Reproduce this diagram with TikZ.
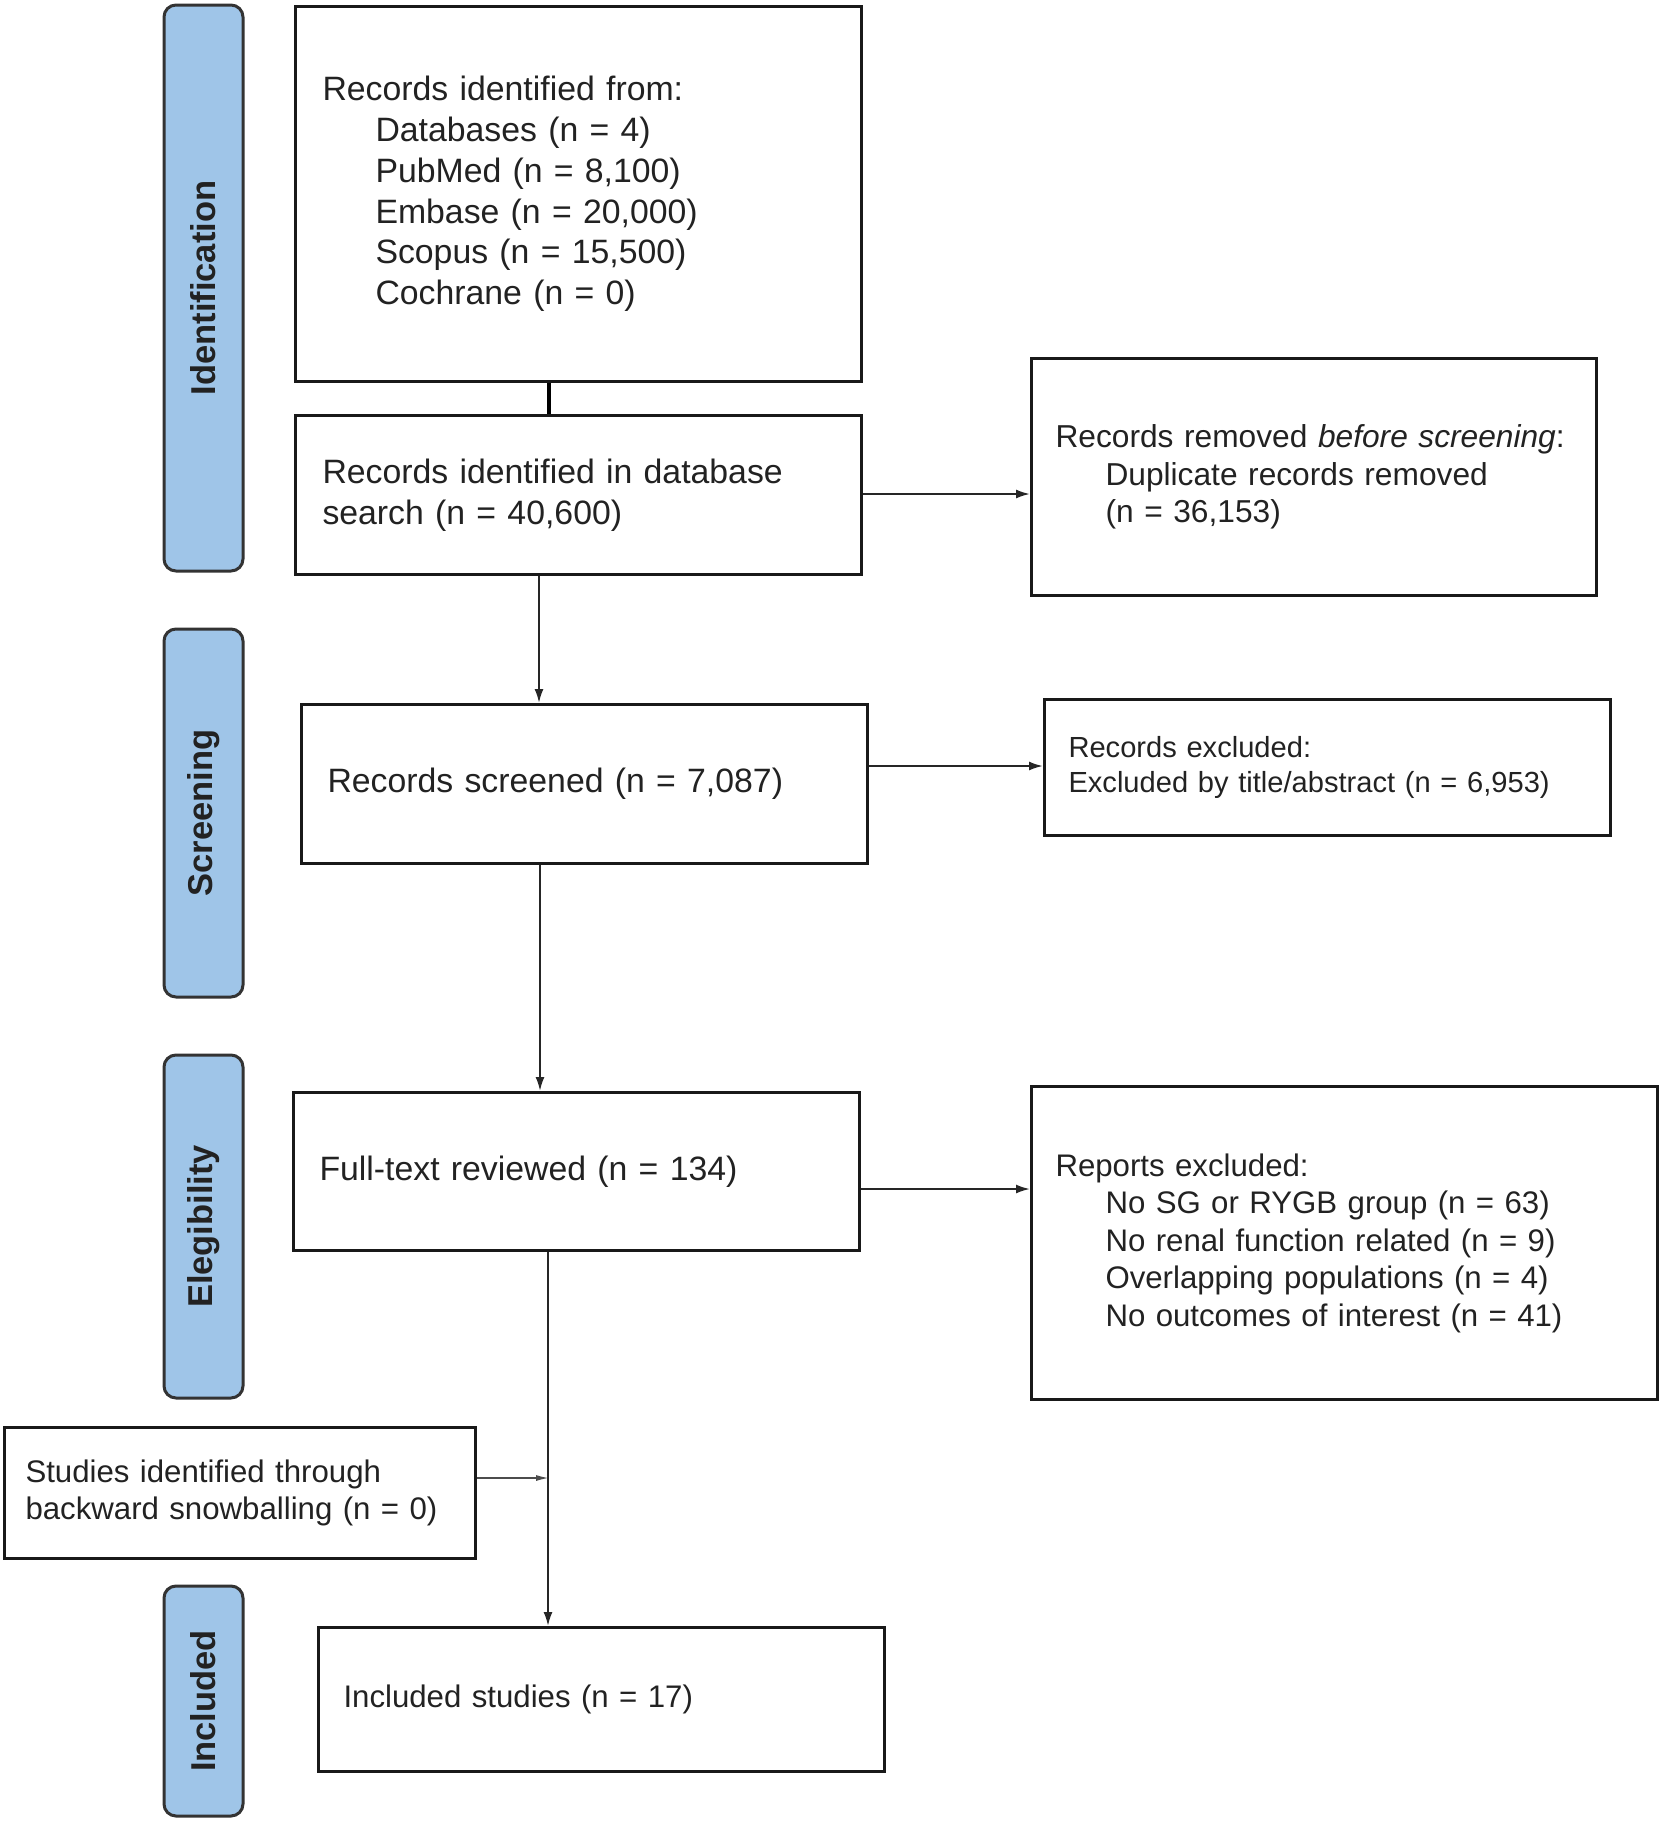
\documentclass[tikz,border=0pt]{standalone}
\usepackage{fontspec}
\setmainfont{Liberation Sans}
\usetikzlibrary{arrows.meta}
\definecolor{phasefill}{HTML}{9FC5E8}
\definecolor{ink}{HTML}{222222}
\tikzset{
  box/.style={draw=black!90, line width=3pt, rectangle, anchor=north west, align=left,
    inner ysep=0pt, text=ink},
  fbig/.style={font=\fontsize{33.8}{40.7}\selectfont},
  frem/.style={font=\fontsize{31.7}{37.5}\selectfont},
  fmid/.style={font=\fontsize{31.2}{37.5}\selectfont},
  fsmall/.style={font=\fontsize{29.1}{35}\selectfont},
  phase/.style={draw=black!80, fill=phasefill, line width=3pt, rounded corners=12pt,
    rotate=90, minimum height=79pt, inner sep=0pt, text=ink,
    font=\bfseries\fontsize{34.5}{34.5}\selectfont},
  arr/.style={line width=2pt, draw=black!85, -{Latex[length=14pt,width=9pt]}},
  joinline/.style={line width=4pt, draw=black},
  smallarr/.style={line width=2pt, draw=black!70, -{Latex[length=14pt,width=6pt]}},
}
\begin{document}
\begin{tikzpicture}[x=1pt,y=-1pt]
\useasboundingbox (0,0) rectangle (1659,1823);

% phase bars
\node[phase, minimum width=566pt] (pid) at (203.5,288) {Identification};
\node[phase, minimum width=368pt] (pscr) at (203.5,813) {Screening};
\node[phase, minimum width=343pt] (pel) at (203.5,1226.5) {Elegibility};
\node[phase, minimum width=230pt] (pinc) at (203.5,1701) {Included};

% boxes
\node[box, fbig, inner xsep=27pt, text width=512pt, minimum height=375pt] (b1) at (294,5)
 {Records identified from:\\
  \hspace*{53pt}Databases (n = 4)\\
  \hspace*{53pt}PubMed (n = 8,100)\\
  \hspace*{53pt}Embase (n = 20,000)\\
  \hspace*{53pt}Scopus (n = 15,500)\\
  \hspace*{53pt}Cochrane (n = 0)};
\node[box, fbig, inner xsep=27pt, text width=512pt, minimum height=159pt] (b2) at (294,414)
 {Records identified in database\\search (n = 40,600)};
\node[box, frem, inner xsep=24pt, text width=517pt, minimum height=237pt] (rem) at (1030,357)
 {Records removed \textit{before screening}:\\
  \hspace*{50pt}Duplicate records removed\\
  \hspace*{50pt}(n = 36,153)};
\node[box, fbig, inner xsep=26pt, text width=514pt, minimum height=159pt] (scr) at (300,703)
 {Records screened (n = 7,087)};
\node[box, fsmall, inner xsep=24pt, text width=518pt, minimum height=136pt] (exc) at (1043,698)
 {Records excluded:\\Excluded by title/abstract (n = 6,953)};
\node[box, fbig, inner xsep=26pt, text width=514pt, minimum height=158pt] (full) at (292,1091)
 {Full-text reviewed (n = 134)};
\node[box, fmid, inner xsep=24pt, text width=578pt, minimum height=313pt] (rep) at (1030,1085)
 {Reports excluded:\\
  \hspace*{50pt}No SG or RYGB group (n = 63)\\
  \hspace*{50pt}No renal function related (n = 9)\\
  \hspace*{50pt}Overlapping populations (n = 4)\\
  \hspace*{50pt}No outcomes of interest (n = 41)};
\node[box, fmid, inner xsep=21pt, text width=429pt, minimum height=131pt] (snow) at (3,1426)
 {Studies identified through\\backward snowballing (n = 0)};
\node[box, fmid, inner xsep=25pt, text width=516pt, minimum height=144pt] (inc) at (317,1626)
 {Included studies (n = 17)};

% connector guide coordinates
\coordinate (xa) at (549,0);
\coordinate (xb) at (539,0);
\coordinate (xc) at (540,0);
\coordinate (xd) at (548,0);
\coordinate (ya) at (0,494);
\coordinate (yb) at (0,766);
\coordinate (yc) at (0,1189);
\coordinate (jn) at (550,1478);

% connectors
\draw[joinline] (b1.south -| xa) -- (b2.north -| xa);
\draw[arr] (b2.east |- ya) -- (rem.west |- ya);
\draw[arr] (b2.south -| xb) -- (scr.north -| xb);
\draw[arr] (scr.east |- yb) -- (exc.west |- yb);
\draw[arr] (scr.south -| xc) -- (full.north -| xc);
\draw[arr] (full.east |- yc) -- (rep.west |- yc);
\draw[arr] (full.south -| xd) -- (inc.north -| xd);
\draw[smallarr] (snow.east |- jn) -- (jn);
\end{tikzpicture}
\end{document}
